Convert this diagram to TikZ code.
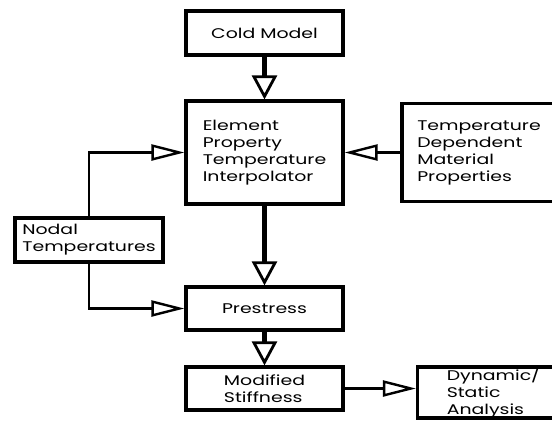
\documentclass[tikz,border=0pt]{standalone}
\usepackage{fontspec}
\setmainfont{Poppins}[FakeStretch=1.35]
\usepackage{tikz}
\usetikzlibrary{positioning, arrows.meta}

\tikzset{
  block/.style={draw, line width=3.2pt, align=left, inner sep=0pt,
    font=\fontsize{14}{17}\selectfont},
  varrow/.style={line width=4.5pt, -{Triangle[open, length=24pt, width=25pt, line width=2.8pt]}},
  harrow/.style={line width=2.5pt, -{Triangle[open, length=33pt, width=16pt, line width=2.4pt]}}
}

\begin{document}
\begin{tikzpicture}[node distance=2cm, on grid]
  \useasboundingbox (0,0) rectangle (552pt,-421pt);
  \node[block, minimum width=157pt, minimum height=44pt] (cold) at (264.5pt,-33pt) {Cold Model};
  \node[block, minimum width=157pt, minimum height=103pt] (elem) [below=119.5pt of cold]
    {Element\\Property\\Temperature\\Interpolator};
  \node[block, minimum width=154pt, minimum height=98pt] (tdmp) [right=214.5pt of elem]
    {Temperature\\Dependent\\Material\\Properties};
  \node[block, minimum width=148pt, minimum height=44pt] (nodal) [below left=87.5pt and 175.5pt of elem]
    {Nodal\\Temperatures};
  \node[block, minimum width=157pt, minimum height=43pt] (pre) [below=156pt of elem] {Prestress};
  \node[block, minimum width=157pt, minimum height=43pt] (mod) [below=80pt of pre]
    {Modified\\Stiffness};
  \node[block, minimum width=152pt, minimum height=51pt] (dyn) [below right=4pt and 229pt of mod]
    {Dynamic/\\Static\\Analysis};
  \path[varrow]
    (cold) edge (elem)
    (elem) edge (pre)
    (pre) edge (mod);
  \path[harrow]
    (tdmp) edge (elem)
    (mod.east) edge (mod.east -| dyn.west);
  \draw[harrow] (nodal) |- (elem);
  \draw[harrow] (nodal) |- (pre);
\end{tikzpicture}
\end{document}
